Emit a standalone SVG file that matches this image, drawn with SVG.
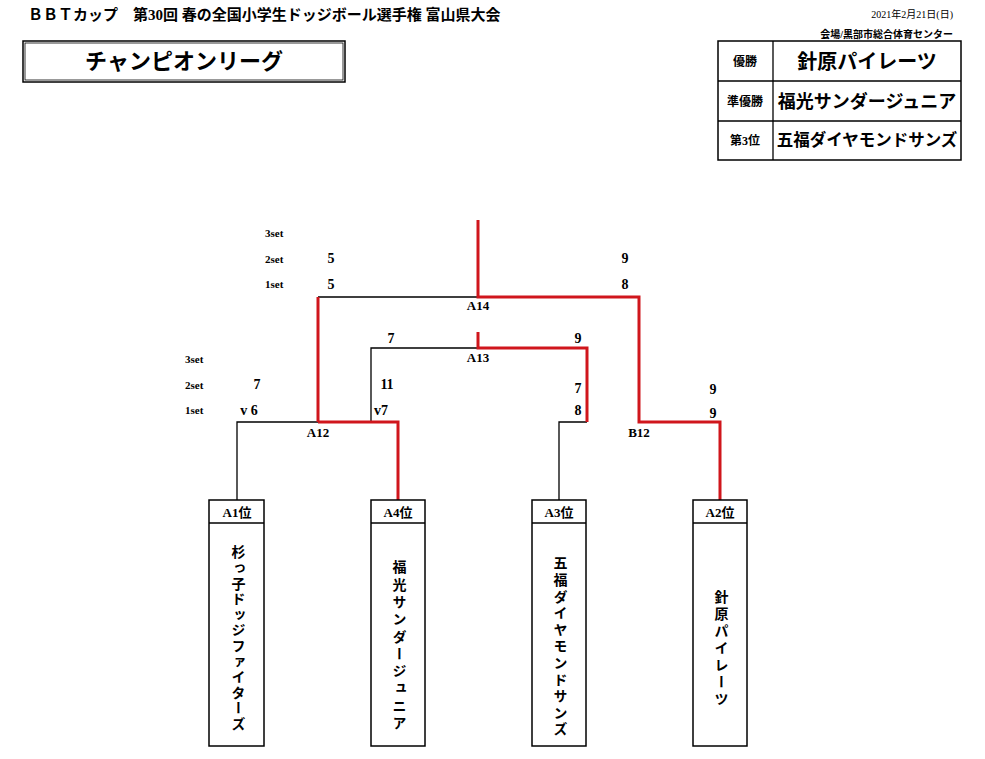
<svg xmlns="http://www.w3.org/2000/svg" width="985" height="759" viewBox="0 0 985 759">
<style>
text{font-family:"Liberation Serif","Noto Sans CJK JP",serif;font-weight:bold;fill:#000}
.s{font-size:11px}
.n{font-size:14px;text-anchor:middle}
.lb{font-size:13px;text-anchor:middle}
.k{stroke:#000;stroke-width:1.3;fill:none}
.r{stroke:#d0161c;stroke-width:3;fill:none}
.box{stroke:#000;stroke-width:1.5;fill:#fff}
.v{font-size:14px;writing-mode:tb;text-anchor:start}
</style>
<text x="28" y="20" style="font-size:15px">ＢＢＴカップ　第30回 春の全国小学生ドッジボール選手権 富山県大会</text>
<text x="953" y="18" style="font-size:10px;text-anchor:end;font-weight:normal">2021年2月21日(日)</text>
<text x="953" y="38" style="font-size:10px;text-anchor:end">会場/黒部市総合体育センター</text>
<g id="title"><rect x="23" y="41" width="322" height="41" class="box"/><rect x="25" y="43" width="318" height="37" fill="none" stroke="#000" stroke-width="0.8"/>
<text x="184" y="69" style="font-size:22px;text-anchor:middle">チャンピオンリーグ</text></g>
<g id="results">
<rect x="718" y="41" width="243" height="119" class="box"/>
<line x1="718" y1="81" x2="961" y2="81" class="k" stroke-width="2"/><line x1="718" y1="121" x2="961" y2="121" class="k" stroke-width="2"/><line x1="773" y1="41" x2="773" y2="160" class="k"/>
<text x="745" y="66" class="lb" style="font-size:12px">優勝</text><text x="867" y="69" class="lb" style="font-size:20px">針原パイレーツ</text>
<text x="745" y="106" class="lb" style="font-size:12px">準優勝</text><text x="867" y="108" class="lb" style="font-size:18px">福光サンダージュニア</text>
<text x="745" y="145" class="lb" style="font-size:12px">第3位</text><text x="867" y="146" class="lb" style="font-size:16.5px">五福ダイヤモンドサンズ</text>
</g>
<g id="connectors">
<path class="k" d="M237 500V422H318M398 422H318M371 422V348H478M559 500V422H587M318 297H478"/>
<path class="r" d="M318 422V297M318 422H398V500M478 220V297H639V422H720V500M478 332V348H587V422M639 422"/>
</g>
<g id="labels">
<text x="478" y="310" class="lb">A14</text><text x="478" y="362" class="lb">A13</text>
<text x="318" y="437" class="lb">A12</text><text x="639" y="437" class="lb">B12</text>
<text x="265" y="237" class="s">3set</text><text x="265" y="263" class="s">2set</text><text x="265" y="288" class="s">1set</text>
<text x="185" y="363" class="s">3set</text><text x="185" y="389" class="s">2set</text><text x="185" y="414" class="s">1set</text>
<text x="331" y="263" class="n">5</text><text x="331" y="289" class="n">5</text>
<text x="625" y="263" class="n">9</text><text x="625" y="289" class="n">8</text>
<text x="391" y="343" class="n">7</text><text x="578" y="343" class="n">9</text>
<text x="257" y="389" class="n">7</text><text x="249" y="415" class="n">v 6</text>
<text x="387" y="389" class="n">11</text><text x="381" y="415" class="n">v7</text>
<text x="578" y="393" class="n">7</text><text x="578" y="415" class="n">8</text>
<text x="713" y="394" class="n">9</text><text x="713" y="418" class="n">9</text>
</g>
<g id="A1"><rect x="209" y="500" width="55" height="246" class="box"/><line x1="209" y1="523" x2="264" y2="523" class="k" stroke-width="1.5"/><text x="237" y="517" class="lb">A1位</text><text x="237" y="545" class="v" style="letter-spacing:1.6px">杉っ子ドッジファイターズ</text></g>
<g id="A4"><rect x="371" y="500" width="54" height="246" class="box"/><line x1="371" y1="523" x2="425" y2="523" class="k" stroke-width="1.5"/><text x="398" y="560" class="v" style="letter-spacing:3.3px">福光サンダージュニア</text><text x="398" y="517" class="lb">A4位</text></g>
<g id="A3"><rect x="532" y="500" width="54" height="246" class="box"/><line x1="532" y1="523" x2="586" y2="523" class="k" stroke-width="1.5"/><text x="559" y="517" class="lb">A3位</text><text x="559" y="556" class="v" style="letter-spacing:2.6px">五福ダイヤモンドサンズ</text></g>
<g id="A2"><rect x="693" y="500" width="54" height="246" class="box"/><line x1="693" y1="523" x2="747" y2="523" class="k" stroke-width="1.5"/><text x="720" y="517" class="lb">A2位</text><text x="720" y="590" class="v" style="letter-spacing:3px">針原パイレーツ</text></g>
</svg>
